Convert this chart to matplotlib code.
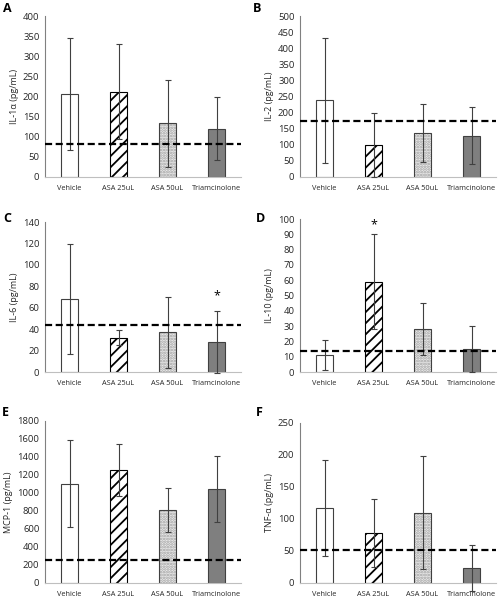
import matplotlib
matplotlib.use("Agg")
import matplotlib.pyplot as plt

groups = ["Vehicle", "ASA 25uL", "ASA 50uL", "Triamcinolone"]

il1a_mean = [207, 212, 133, 120]
il1a_err = [139, 118, 108, 79]
il1a_base = 83

il2_mean = [238, 100, 137, 128]
il2_err = [195, 100, 90, 88]
il2_base = 175

il6_mean = [68, 32, 37, 28]
il6_err = [51, 7, 33, 29]
il6_base = 44

il10_mean = [11, 59, 28, 15]
il10_err = [10, 31, 17, 15]
il10_base = 14

mcp1_mean = [1105, 1255, 815, 1045]
mcp1_err = [482, 290, 245, 365]
mcp1_base = 255

tnfa_mean = [117, 78, 110, 23]
tnfa_err = [75, 53, 88, 36]
tnfa_base = 51

W, H = 500, 598

plt.rcParams["font.family"] = ["Open Sans", "DejaVu Sans"]
plt.rcParams["hatch.linewidth"] = 1.3

panels = [
    # letter, ylabel, means, errs, baseline, ymax, ystep, star index, star y, box (l, r, top, bottom px), letter pos
    ("A", "IL-1α (pg/mL)", il1a_mean, il1a_err, il1a_base, 400, 50, None, None, (45, 241, 16, 177), (3, 8)),
    ("B", "IL-2 (pg/mL)", il2_mean, il2_err, il2_base, 500, 50, None, None, (300, 496, 16, 177), (253, 8)),
    ("C", "IL-6 (pg/mL)", il6_mean, il6_err, il6_base, 140, 20, 3, 71, (45, 241, 222, 372), (3, 218)),
    ("D", "IL-10 (pg/mL)", il10_mean, il10_err, il10_base, 100, 10, 1, 96, (300, 496, 219, 372), (256, 219)),
    ("E", "MCP-1 (pg/mL)", mcp1_mean, mcp1_err, mcp1_base, 1800, 200, None, None, (45, 241, 421, 583), (2, 413)),
    ("F", "TNF-α (pg/mL)", tnfa_mean, tnfa_err, tnfa_base, 250, 50, None, None, (300, 496, 423, 583), (256, 413)),
]

fig = plt.figure(figsize=(W / 100, H / 100), dpi=100)

x = list(range(len(groups)))
bw = 0.33

for letter, ylab, mean, err, base, ymax, step, star_i, star_y, box, lpos in panels:
    l, r, t, b = box
    ax = fig.add_axes([l / W, 1 - b / H, (r - l) / W, (b - t) / H])

    # Vehicle: open bar
    ax.bar(x[0], mean[0], bw, color="white", edgecolor="#404040", linewidth=0.8, zorder=2)
    # ASA 25uL: diagonal hatch
    ax.bar(x[1], mean[1], bw, color="white", edgecolor="black", hatch="///", linewidth=0.8, zorder=2)
    # ASA 50uL: light dotted fill
    ax.bar(x[2], mean[2], bw, color="#ececec", edgecolor="#a0a0a0", hatch="......", linewidth=0, zorder=2)
    ax.bar(x[2], mean[2], bw, color="none", edgecolor="#404040", linewidth=0.8, zorder=2)
    # Triamcinolone: solid grey
    ax.bar(x[3], mean[3], bw, color="#7f7f7f", edgecolor="#404040", linewidth=0.8, zorder=2)

    ax.errorbar(x, mean, yerr=err, fmt="none", ecolor="#404040", elinewidth=0.8,
                capsize=2, capthick=0.8, zorder=3, clip_on=False)
    ax.axhline(base, color="black", linewidth=1.6, dashes=(3.2, 1.6), zorder=4)

    if star_i is not None:
        ax.text(x[star_i], star_y, "*", ha="center", va="center", fontsize=9)

    ax.set_xlim(-0.5, 3.5)
    ax.set_ylim(0, ymax)
    ax.set_yticks(range(0, ymax + 1, step))
    ax.set_xticks(x)
    ax.set_xticklabels(groups, fontsize=5.3)
    ax.tick_params(axis="y", labelsize=6.8, length=0, pad=4, colors="#262626")
    ax.tick_params(axis="x", length=0, pad=6, colors="#262626")
    ax.set_ylabel(ylab, fontsize=6.5, color="#262626", labelpad=3)

    for s in ("top", "right"):
        ax.spines[s].set_visible(False)
    ax.spines["left"].set_color("#808080")
    ax.spines["left"].set_linewidth(0.8)
    ax.spines["bottom"].set_color("#bfbfbf")
    ax.spines["bottom"].set_linewidth(0.8)

    fig.text(lpos[0] / W, 1 - lpos[1] / H, letter, fontsize=9, fontweight="bold",
             ha="left", va="center")

fig.savefig("out.png", dpi=100)
